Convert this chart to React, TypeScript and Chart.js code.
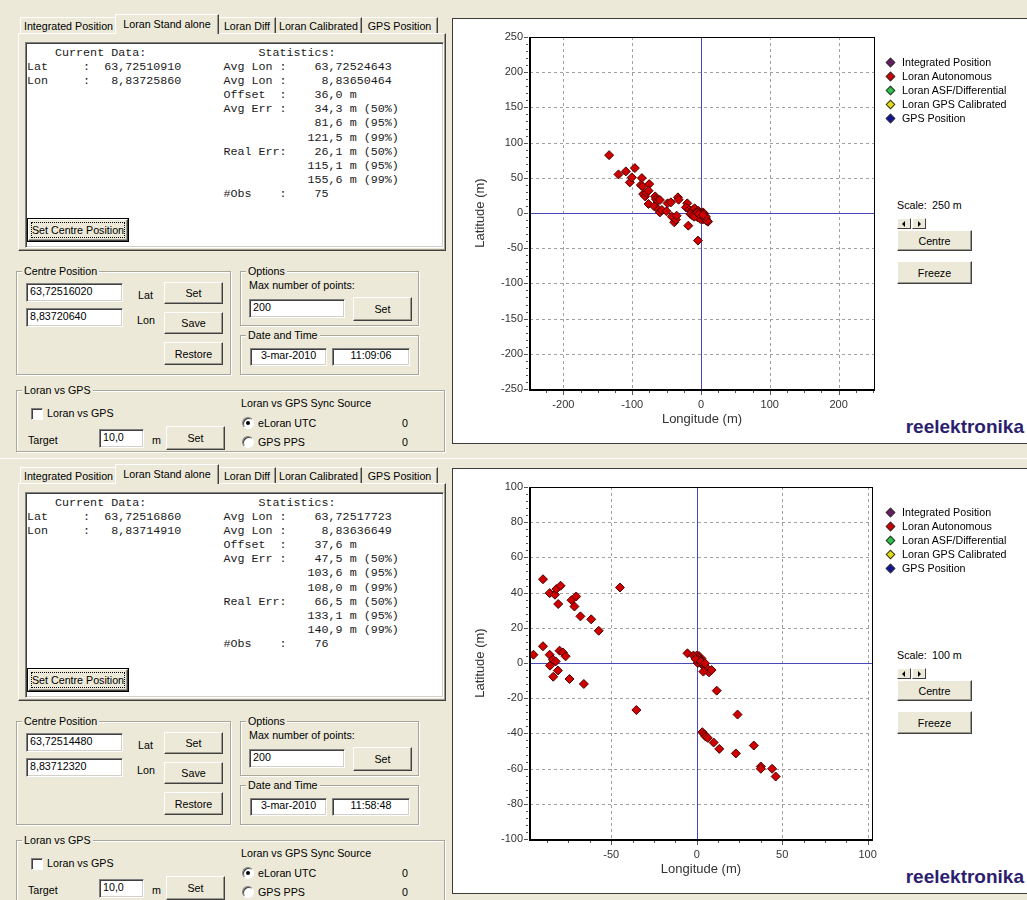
import { useEffect, useRef } from "react";
import { Chart, registerables } from "chart.js";

Chart.register(...registerables);

// ---- legend series ----
const SERIES_NAMES = [
  "Integrated Position",
  "Loran Autonomous",
  "Loran ASF/Differential",
  "Loran GPS Calibrated",
  "GPS Position",
];
const SERIES_COLORS = ["#6a1b63", "#d10000", "#2ec44a", "#e3dc12", "#12129a"];

// ---- Loran stand-alone fixes, metres from the centre position (11:09:06, 250 m scale) ----
const lon1109 = [
  -133.5, -119.9, -109.2, -96.1, -103.4, -100.5, -85.9, -87.4, -84.9, -84.0,
  -81.1, -79.1, -75.2, -76.2, -76.2, -66.5, -65.5, -63.1, -59.7, -68.0,
  -61.6, -59.7, -56.8, -50.0, -48.5, -43.7, -42.2, -38.8, -36.4, -35.4,
  -33.5, -32.5, -18.4, -19.9, -21.8, -17.0, -14.1, -11.2, -9.2, -8.3,
  -7.3, -4.9, -3.9, -2.4, 0.0, 1.5, 2.4, 3.4, 4.9, 6.3,
  7.3, 8.3, 10.2, -4.4, -1.0, 1.5, 4.4, -15.5, -12.1, -9.7,
  0.5, 2.0, 3.5, 5.5, 7.0, 9.0, -5.5, -3.0, 6.8, 2.8,
];
const lat1109 = [
  82.2, 54.8, 59.1, 63.8, 43.5, 50.6, 49.6, 39.7, 37.8, 26.9,
  23.6, 28.8, 41.1, 31.7, 12.8, 23.6, 19.8, 17.5, 18.4, 9.5,
  4.7, 0.9, 4.3, 2.4, 13.7, 15.1, -5.2, -13.2, -9.5, -3.8,
  22.2, 18.9, -18.0, 13.7, 8.0, 4.7, 2.4, 4.7, 6.6, -0.5,
  -3.8, -6.1, 3.3, 0.0, -3.8, -6.1, 0.9, -1.4, -3.8, -6.1,
  -8.5, -10.9, -12.3, -39.2, -8.5, -1.4, -0.5, -1.4, -3.8, -5.2,
  -2.0, -4.0, -5.5, -7.0, -9.5, -11.0, 0.5, -1.5, -5.0, -2.8,
];
// current fix (from the Current Data box)
const cur1109 = { lon: 2.6, lat: -5.7 };

// ---- Loran stand-alone fixes (11:58:48, 100 m scale) ----
const lon1158 = [
  -89.9, -86.0, -82.9, -82.1, -79.6, -81.0, -73.2, -70.5, -71.5, -68.0,
  -61.7, -57.3, -44.9, -95.5, -89.9, -86.0, -85.8, -84.1, -82.5, -83.9,
  -81.2, -80.2, -78.3, -76.7, -74.4, -66.0, -35.3, -5.4, -1.9, 0.0,
  1.0, 1.6, 1.9, 0.6, 2.9, 3.9, 5.2, 6.4, 7.2, 3.9,
  8.7, 11.7, 23.9, 3.3, 4.5, 5.2, 6.4, 9.9, 13.2, 22.9,
  33.4, 37.5, 37.5, 44.1, 46.2, -0.6, 2.5, 4.9,
];
const lat1158 = [
  47.6, 39.7, 38.8, 42.0, 43.9, 33.5, 35.7, 37.8, 32.1, 26.5,
  24.8, 18.3, 42.9, 4.7, 9.5, 4.7, -1.5, 1.9, 0.9, -7.8,
  -4.3, 7.0, 6.0, 3.8, -9.1, -11.9, -26.7, 5.5, 4.2, 4.2,
  3.2, 2.3, 1.3, 0.0, -0.6, -1.5, -2.5, -3.4, -5.3, -4.9,
  -4.0, -15.7, -29.3, -39.3, -40.6, -41.8, -42.5, -45.2, -48.8, -51.4,
  -46.9, -58.8, -60.1, -60.1, -64.5, 2.3, 0.9, -0.2,
];
const cur1158 = { lon: 1.3, lat: 2.6 };

// ---- axis ticks ----
const xTicks250 = [-200, -100, 0, 100, 200];
const yTicks250 = [250, 200, 150, 100, 50, 0, -50, -100, -150, -200, -250];
const xTicks100 = [-50, 0, 50, 100];
const yTicks100 = [100, 80, 60, 40, 20, 0, -20, -40, -60, -80, -100];

const UI_FONT = '"Liberation Sans", Arial, sans-serif';
const MONO_FONT = '"Liberation Mono", "Courier New", monospace';
const BEIGE = "#ece9d8";
const UI_SIZE = 10.7;

// grid, zero axes, frame and minor tick marks around the plot
const plotFrame = {
  id: "plotFrame",
  beforeDatasetsDraw(chart: any) {
    const { ctx, chartArea: a, scales } = chart;
    const x = scales.x;
    const y = scales.y;
    ctx.save();
    ctx.lineWidth = 1;
    ctx.strokeStyle = "#a0a0a0";
    ctx.setLineDash([3, 3]);
    for (const t of x.ticks) {
      if (t.value === 0) continue;
      const px = Math.round(x.getPixelForValue(t.value)) + 0.5;
      ctx.beginPath();
      ctx.moveTo(px, a.top);
      ctx.lineTo(px, a.bottom);
      ctx.stroke();
    }
    for (const t of y.ticks) {
      if (t.value === 0) continue;
      const py = Math.round(y.getPixelForValue(t.value)) + 0.5;
      ctx.beginPath();
      ctx.moveTo(a.left, py);
      ctx.lineTo(a.right, py);
      ctx.stroke();
    }
    ctx.setLineDash([]);
    ctx.strokeStyle = "#4848b8";
    const x0 = Math.round(x.getPixelForValue(0)) + 0.5;
    const y0 = Math.round(y.getPixelForValue(0)) + 0.5;
    ctx.beginPath();
    ctx.moveTo(x0, a.top);
    ctx.lineTo(x0, a.bottom);
    ctx.moveTo(a.left, y0);
    ctx.lineTo(a.right, y0);
    ctx.stroke();
    ctx.restore();
  },
  afterDatasetsDraw(chart: any, _args: any, opts: any) {
    const { ctx, chartArea: a, scales } = chart;
    const x = scales.x;
    const y = scales.y;
    ctx.save();
    ctx.strokeStyle = "#000";
    ctx.lineWidth = 1;
    ctx.strokeRect(Math.round(a.left) + 0.5, Math.round(a.top) + 0.5, Math.round(a.right - a.left), Math.round(a.bottom - a.top));
    ctx.lineWidth = 2;
    ctx.beginPath();
    ctx.moveTo(Math.round(a.left), a.top);
    ctx.lineTo(Math.round(a.left), Math.round(a.bottom) + 1);
    ctx.lineTo(a.right + 1, Math.round(a.bottom) + 1);
    ctx.stroke();
    ctx.lineWidth = 1;
    ctx.strokeStyle = "#555";
    const minorX = opts.xMinor;
    const minorY = opts.yMinor;
    for (let k = Math.ceil(x.min / minorX); k * minorX <= x.max; k++) {
      const v = k * minorX;
      const px = Math.round(x.getPixelForValue(v)) + 0.5;
      const major = x.ticks.some((t: any) => t.value === v);
      ctx.beginPath();
      ctx.moveTo(px, a.bottom + 2);
      ctx.lineTo(px, a.bottom + (major ? 6 : 4));
      ctx.stroke();
    }
    for (let k = Math.ceil(y.min / minorY); k * minorY <= y.max; k++) {
      const v = k * minorY;
      const py = Math.round(y.getPixelForValue(v)) + 0.5;
      const major = y.ticks.some((t: any) => t.value === v);
      ctx.beginPath();
      ctx.moveTo(a.left - 2, py);
      ctx.lineTo(a.left - (major ? 6 : 4), py);
      ctx.stroke();
    }
    ctx.restore();
  },
};

type PlotProps = {
  lon: number[];
  lat: number[];
  cur: { lon: number; lat: number };
  xMin: number;
  xMax: number;
  yMin: number;
  yMax: number;
  xTicks: number[];
  yTicks: number[];
  xMinor: number;
  yMinor: number;
};

function FixPlot(p: PlotProps) {
  const ref = useRef<HTMLCanvasElement>(null);
  useEffect(() => {
    if (!ref.current) return;
    const tickFont = { family: UI_FONT, size: 11 };
    const titleFont = { family: UI_FONT, size: 13 };
    const chart = new Chart(ref.current, {
      type: "scatter",
      data: {
        datasets: [
          {
            label: SERIES_NAMES[1],
            data: p.lon.map((v, i) => ({ x: v, y: p.lat[i] })),
            pointStyle: "rectRot",
            pointRadius: 4.5,
            backgroundColor: "#d00000",
            borderColor: "#4a0000",
            borderWidth: 1,
          },
          {
            label: "current",
            data: [{ x: p.cur.lon, y: p.cur.lat }],
            pointStyle: "rectRot",
            pointRadius: 7,
            backgroundColor: "#e00000",
            borderColor: "#5a0000",
            borderWidth: 1,
          },
        ],
      },
      options: {
        animation: false,
        responsive: false,
        events: [],
        layout: { padding: { top: 17, right: 12, left: 0, bottom: 0 } },
        plugins: {
          legend: { display: false },
          tooltip: { enabled: false },
          plotFrame: { xMinor: p.xMinor, yMinor: p.yMinor },
        } as any,
        scales: {
          x: {
            type: "linear",
            min: p.xMin,
            max: p.xMax,
            grid: { display: false, drawTicks: false, tickLength: 0 },
            border: { display: false },
            afterBuildTicks: (s: any) => {
              s.ticks = p.xTicks.map((v) => ({ value: v }));
            },
            afterFit: (s: any) => {
              s.height = 55;
            },
            ticks: { font: tickFont, color: "#333", padding: 9, maxRotation: 0, autoSkip: false },
            title: {
              display: true,
              text: "Longitude (m)",
              font: titleFont,
              color: "#333",
              padding: { top: 0, bottom: 17 },
            },
          },
          y: {
            type: "linear",
            min: p.yMin,
            max: p.yMax,
            grid: { display: false, drawTicks: false, tickLength: 0 },
            border: { display: false },
            afterBuildTicks: (s: any) => {
              s.ticks = p.yTicks.map((v) => ({ value: v }));
            },
            afterFit: (s: any) => {
              s.width = 76;
            },
            ticks: { font: tickFont, color: "#333", padding: 7, autoSkip: false },
            title: {
              display: true,
              text: "Latitude (m)",
              font: titleFont,
              color: "#333",
              padding: { top: 19, bottom: 0 },
            },
          },
        },
      },
      plugins: [plotFrame],
    });
    return () => chart.destroy();
  }, []);
  return (
    <canvas
      ref={ref}
      width={432}
      height={424}
      style={{ position: "absolute", left: 1, top: 1, width: 432, height: 424 }}
    />
  );
}

// ---- classic Windows widgets ----
function Txt({ x, y, text, style }: { x: number; y: number; text: string; style?: any }) {
  return (
    <div
      style={{
        position: "absolute",
        left: x,
        top: y - 7,
        height: 14,
        lineHeight: "14px",
        whiteSpace: "nowrap",
        fontSize: UI_SIZE,
        ...style,
      }}
    >
      {text}
    </div>
  );
}

function Btn({ x, y, w, h, label }: { x: number; y: number; w: number; h: number; label: string }) {
  return (
    <div
      style={{
        position: "absolute",
        left: x,
        top: y,
        width: w,
        height: h,
        boxSizing: "border-box",
        background: BEIGE,
        borderTop: "1px solid #fff",
        borderLeft: "1px solid #fff",
        borderRight: "1px solid #404040",
        borderBottom: "1px solid #404040",
        boxShadow: "inset -1px -1px 0 #9d9b90",
        display: "flex",
        alignItems: "center",
        justifyContent: "center",
        fontSize: UI_SIZE,
      }}
    >
      {label}
    </div>
  );
}

function Edit({ x, y, w, h, text, center }: { x: number; y: number; w: number; h: number; text: string; center?: boolean }) {
  return (
    <div
      style={{
        position: "absolute",
        left: x,
        top: y,
        width: w,
        height: h,
        boxSizing: "border-box",
        background: "#fff",
        borderTop: "1px solid #808080",
        borderLeft: "1px solid #808080",
        borderRight: "1px solid #fff",
        borderBottom: "1px solid #fff",
        boxShadow: "inset 1px 1px 0 #404040, inset -1px -1px 0 #d4d0c8",
        fontSize: UI_SIZE,
        lineHeight: `${h - 5}px`,
        paddingLeft: center ? 0 : 3,
        textAlign: center ? "center" : "left",
        whiteSpace: "nowrap",
      }}
    >
      {text}
    </div>
  );
}

function Group({ x, y, w, h, label }: { x: number; y: number; w: number; h: number; label: string }) {
  return (
    <>
      <div
        style={{
          position: "absolute",
          left: x,
          top: y,
          width: w,
          height: h,
          boxSizing: "border-box",
          border: "1px solid #a9a799",
          boxShadow: "inset 1px 1px 0 #fff, 1px 1px 0 #fff",
        }}
      />
      <Txt x={x + 6} y={y} text={label} style={{ background: BEIGE, padding: "0 2px" }} />
    </>
  );
}

function Radio({ cx, cy, checked }: { cx: number; cy: number; checked?: boolean }) {
  return (
    <div
      style={{
        position: "absolute",
        left: cx - 6,
        top: cy - 6,
        width: 12,
        height: 12,
        boxSizing: "border-box",
        borderRadius: "50%",
        background: "#fff",
        borderTop: "1px solid #808080",
        borderLeft: "1px solid #808080",
        borderRight: "1px solid #fff",
        borderBottom: "1px solid #fff",
        boxShadow: "inset 1px 1px 0 #404040",
      }}
    >
      {checked && (
        <div
          style={{
            position: "absolute",
            left: 3,
            top: 3,
            width: 4,
            height: 4,
            borderRadius: "50%",
            background: "#000",
          }}
        />
      )}
    </div>
  );
}

function Arrow({ x, y, w, dir }: { x: number; y: number; w: number; dir: "l" | "r" }) {
  return (
    <div
      style={{
        position: "absolute",
        left: x,
        top: y,
        width: w,
        height: 11,
        boxSizing: "border-box",
        background: BEIGE,
        borderTop: "1px solid #fff",
        borderLeft: "1px solid #fff",
        borderRight: "1px solid #404040",
        borderBottom: "1px solid #404040",
      }}
    >
      <div
        style={{
          position: "absolute",
          left: dir === "l" ? 4 : 5,
          top: 1.5,
          width: 0,
          height: 0,
          borderTop: "3px solid transparent",
          borderBottom: "3px solid transparent",
          borderRight: dir === "l" ? "3px solid #000" : undefined,
          borderLeft: dir === "r" ? "3px solid #000" : undefined,
        }}
      />
    </div>
  );
}

// place strings at fixed monospace columns
function cols(parts: [number, string][]) {
  let s = "";
  for (const [c, t] of parts) {
    while (s.length < c) s += " ";
    s += t;
  }
  return s;
}

type ScreenData = {
  curLat: string;
  curLon: string;
  avgLat: string;
  avgLon: string;
  offset: string;
  avgErr: string[];
  realErr: string[];
  obs: string;
  centreLat: string;
  centreLon: string;
  time: string;
  scale: string;
  plot: PlotProps;
};

const screen1109: ScreenData = {
  curLat: "63,72510910",
  curLon: "8,83725860",
  avgLat: "63,72524643",
  avgLon: "8,83650464",
  offset: "36,0 m",
  avgErr: ["34,3 m (50%)", "81,6 m (95%)", "121,5 m (99%)"],
  realErr: ["26,1 m (50%)", "115,1 m (95%)", "155,6 m (99%)"],
  obs: "75",
  centreLat: "63,72516020",
  centreLon: "8,83720640",
  time: "11:09:06",
  scale: "250 m",
  plot: {
    lon: lon1109,
    lat: lat1109,
    cur: cur1109,
    xMin: -248.5,
    xMax: 251.5,
    yMin: -250,
    yMax: 250,
    xTicks: xTicks250,
    yTicks: yTicks250,
    xMinor: 25,
    yMinor: 10,
  },
};

const screen1158: ScreenData = {
  curLat: "63,72516860",
  curLon: "8,83714910",
  avgLat: "63,72517723",
  avgLon: "8,83636649",
  offset: "37,6 m",
  avgErr: ["47,5 m (50%)", "103,6 m (95%)", "108,0 m (99%)"],
  realErr: ["66,5 m (50%)", "133,1 m (95%)", "140,9 m (99%)"],
  obs: "76",
  centreLat: "63,72514480",
  centreLon: "8,83712320",
  time: "11:58:48",
  scale: "100 m",
  plot: {
    lon: lon1158,
    lat: lat1158,
    cur: cur1158,
    xMin: -97.5,
    xMax: 102.5,
    yMin: -100,
    yMax: 100,
    xTicks: xTicks100,
    yTicks: yTicks100,
    xMinor: 12.5,
    yMinor: 4,
  },
};

const TABS: [string, number, number][] = [
  ["Integrated Position", 20, 97],
  ["Loran Stand alone", 117, 102],
  ["Loran Diff", 219, 57],
  ["Loran Calibrated", 276, 86],
  ["GPS Position", 362, 76],
];

function Screen({ top, d }: { top: number; d: ScreenData }) {
  const errCol = (s: string) => 45 - s.split(" ")[0].length;
  const lines = [
    cols([[4, "Current Data:"], [33, "Statistics:"]]),
    cols([[0, "Lat"], [8, ":"], [22 - d.curLat.length, d.curLat], [28, "Avg Lon :"], [52 - d.avgLat.length, d.avgLat]]),
    cols([[0, "Lon"], [8, ":"], [22 - d.curLon.length, d.curLon], [28, "Avg Lon :"], [52 - d.avgLon.length, d.avgLon]]),
    cols([[28, "Offset  :"], [errCol(d.offset), d.offset]]),
    cols([[28, "Avg Err :"], [errCol(d.avgErr[0]), d.avgErr[0]]]),
    cols([[errCol(d.avgErr[1]), d.avgErr[1]]]),
    cols([[errCol(d.avgErr[2]), d.avgErr[2]]]),
    cols([[28, "Real Err:"], [errCol(d.realErr[0]), d.realErr[0]]]),
    cols([[errCol(d.realErr[1]), d.realErr[1]]]),
    cols([[errCol(d.realErr[2]), d.realErr[2]]]),
    cols([[28, "#Obs    :"], [41, d.obs]]),
  ];
  return (
    <div style={{ position: "absolute", left: 0, top, width: 1027, height: 450 }}>
      {/* tab page */}
      <div
        style={{
          position: "absolute",
          left: 18,
          top: 33,
          width: 428,
          height: 218,
          boxSizing: "border-box",
          borderTop: "1px solid #fff",
          borderLeft: "1px solid #fff",
          borderRight: "1px solid #404040",
          borderBottom: "1px solid #404040",
          boxShadow: "inset -1px -1px 0 #9d9b90",
        }}
      />
      {TABS.map(([label, x, w], i) => {
        const sel = i === 1;
        return (
          <div
            key={label}
            style={{
              position: "absolute",
              left: sel ? x - 2 : x,
              top: sel ? 14 : 17,
              width: sel ? w + 2 : w,
              height: sel ? 20 : 16,
              boxSizing: "border-box",
              background: BEIGE,
              borderTop: "1px solid #fff",
              borderLeft: i === 0 || sel ? "1px solid #fff" : "none",
              borderRight: "1px solid #404040",
              boxShadow: "inset -1px 0 0 #9d9b90",
              fontSize: UI_SIZE,
              lineHeight: sel ? "18px" : "17px",
              textAlign: "center",
              whiteSpace: "nowrap",
              zIndex: sel ? 2 : 1,
            }}
          >
            {label}
          </div>
        );
      })}
      {/* statistics text box */}
      <div
        style={{
          position: "absolute",
          left: 25,
          top: 42,
          width: 419,
          height: 206,
          boxSizing: "border-box",
          background: "#fff",
          borderTop: "1px solid #808080",
          borderLeft: "1px solid #808080",
          borderRight: "1px solid #fff",
          borderBottom: "1px solid #fff",
          boxShadow: "inset 1px 1px 0 #404040, inset -1px -1px 0 #d4d0c8",
        }}
      />
      <pre
        style={{
          position: "absolute",
          left: 27,
          top: 46,
          margin: 0,
          fontFamily: MONO_FONT,
          fontSize: 11.7,
          lineHeight: "14.1px",
          color: "#1a1a1a",
        }}
      >
        {lines.join("\n")}
      </pre>
      {/* default push button with focus rectangle */}
      <div
        style={{
          position: "absolute",
          left: 27,
          top: 218,
          width: 102,
          height: 24,
          boxSizing: "border-box",
          border: "1px solid #000",
        }}
      >
        <Btn x={0} y={0} w={100} h={22} label="Set Centre Position" />
        <div
          style={{
            position: "absolute",
            left: 3,
            top: 3,
            width: 94,
            height: 16,
            boxSizing: "border-box",
            border: "1px dotted #000",
          }}
        />
      </div>

      {/* Centre Position */}
      <Group x={16} y={271} w={215} h={104} label="Centre Position" />
      <Edit x={26} y={283} w={97} h={19} text={d.centreLat} />
      <Txt x={138} y={295} text="Lat" />
      <Btn x={164} y={282} w={59} h={22} label="Set" />
      <Edit x={26} y={308} w={97} h={19} text={d.centreLon} />
      <Txt x={137} y={320} text="Lon" />
      <Btn x={164} y={312} w={59} h={22} label="Save" />
      <Btn x={164} y={342} w={59} h={23} label="Restore" />

      {/* Options */}
      <Group x={240} y={271} w={179} h={55} label="Options" />
      <Txt x={249} y={285} text="Max number of points:" />
      <Edit x={249} y={299} w={96} h={19} text="200" />
      <Btn x={353} y={297} w={59} h={24} label="Set" />

      {/* Date and Time */}
      <Group x={240} y={335} w={179} h={40} label="Date and Time" />
      <Edit x={250} y={348} w={77} h={18} text="3-mar-2010" center />
      <Edit x={332} y={348} w={78} h={18} text={d.time} center />

      {/* Loran vs GPS */}
      <Group x={16} y={390} w={429} h={62} label="Loran vs GPS" />
      <div
        style={{
          position: "absolute",
          left: 31,
          top: 408,
          width: 12,
          height: 12,
          boxSizing: "border-box",
          background: "#fff",
          borderTop: "1px solid #808080",
          borderLeft: "1px solid #808080",
          borderRight: "1px solid #fff",
          borderBottom: "1px solid #fff",
          boxShadow: "inset 1px 1px 0 #404040",
        }}
      />
      <Txt x={47} y={413} text="Loran vs GPS" />
      <Txt x={28} y={440} text="Target" />
      <Edit x={99} y={429} w={45} h={19} text="10,0" />
      <Txt x={152} y={440} text="m" />
      <Btn x={166} y={426} w={59} h={24} label="Set" />
      <Txt x={241} y={403} text="Loran vs GPS Sync Source" />
      <Radio cx={248} cy={423} checked />
      <Txt x={258} y={423} text="eLoran UTC" />
      <Txt x={402} y={423} text="0" />
      <Radio cx={248} cy={442} />
      <Txt x={258} y={442} text="GPS PPS" />
      <Txt x={402} y={442} text="0" />

      {/* map panel */}
      <div
        style={{
          position: "absolute",
          left: 452,
          top: 18,
          width: 575,
          height: 426,
          boxSizing: "border-box",
          background: "#fff",
          borderTop: "1px solid #3c3c3c",
          borderLeft: "1px solid #3c3c3c",
          borderBottom: "1px solid #3c3c3c",
        }}
      >
        <FixPlot {...d.plot} />
      </div>
      {SERIES_NAMES.map((name, i) => (
        <div key={name}>
          <div
            style={{
              position: "absolute",
              left: 887,
              top: 59 + i * 14,
              width: 5,
              height: 5,
              background: SERIES_COLORS[i],
              border: "1px solid #333",
              transform: "rotate(45deg)",
            }}
          />
          <Txt x={902} y={62 + i * 14} text={name} />
        </div>
      ))}
      <Txt x={897} y={205} text="Scale:" />
      <Txt x={932} y={205} text={d.scale} />
      <Arrow x={897} y={218} w={14} dir="l" />
      <Arrow x={912} y={218} w={14} dir="r" />
      <Btn x={897} y={230} w={75} h={21} label="Centre" />
      <Btn x={897} y={261} w={75} h={23} label="Freeze" />
      <div
        style={{
          position: "absolute",
          right: 3,
          top: 416,
          height: 22,
          lineHeight: "22px",
          fontSize: 19,
          fontWeight: "bold",
          color: "#2c1e6e",
          whiteSpace: "nowrap",
        }}
      >
        reelektronika
      </div>
    </div>
  );
}

export default function App() {
  useEffect(() => {
    document.body.style.margin = "0";
    document.documentElement.style.overflow = "hidden";
  }, []);
  return (
    <div
      style={{
        position: "absolute",
        left: 0,
        top: 0,
        width: 1027,
        height: 900,
        overflow: "hidden",
        background: BEIGE,
        fontFamily: UI_FONT,
        color: "#000",
      }}
    >
      <Screen top={0} d={screen1109} />
      <Screen top={450} d={screen1158} />
      <div style={{ position: "absolute", left: 0, top: 458, width: 1027, height: 1, background: "#fff" }} />
    </div>
  );
}
